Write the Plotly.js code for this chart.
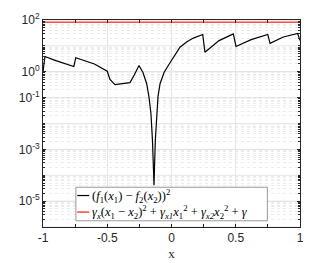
<!DOCTYPE html>
<html><head><meta charset="utf-8">
<script src="https://cdn.plot.ly/plotly-3.0.1.min.js"></script>
<style>html,body{margin:0;padding:0;background:#fff;}#chart{width:332px;height:263px;}</style>
</head><body><div id="chart"></div>
<script>
// (f1(x1) - f2(x2))^2 curve
const xCurve = [-1, -0.985, -0.9, -0.8, -0.76, -0.745, -0.6, -0.5, -0.479, -0.44, -0.38, -0.323, -0.29, -0.253, -0.222, -0.193, -0.175, -0.16, -0.148, -0.136, -0.126, -0.115, -0.105, -0.089, -0.058, -0.025, 0.027, 0.066, 0.12, 0.17, 0.243, 0.26, 0.37, 0.481, 0.502, 0.62, 0.749, 0.767, 0.87, 0.982, 1];
const yCurve = [1.0, 3.9, 2.7, 1.85, 1.6, 3.5, 2.0, 1.05, 0.5, 0.32, 0.34, 0.38, 0.75, 1.75, 0.94, 0.344, 0.102, 0.0245, 0.0022, 0.000041, 0.0022, 0.0245, 0.112, 0.344, 0.94, 1.75, 4.3, 8.9, 14.5, 20, 27.6, 5.7, 16, 29, 9.5, 17.5, 27.6, 12.6, 22, 30, 16];
// gamma bound (constant)
const xBound = [-1, 1];
const yBound = [82, 82];
// axis ticks
const xTickVals = [-1, -0.5, 0, 0.5, 1];
const xTickText = ['-1', '-0.5', '0', '0.5', '1'];
const yTickVals = [1e-5, 1e-3, 1e-1, 1, 100];
const yTickText = ['10<sup>-5</sup>', '10<sup>-3</sup>', '10<sup>-1</sup>', '10<sup>0</sup>', '10<sup>2</sup>'];
const yGridDecades = [1e-6, 1e-5, 1e-4, 1e-3, 1e-2, 1e-1, 1, 10, 100];

const name1 = '(<i>f</i><sub>1</sub>(<i>x</i><sub>1</sub>) − <i>f</i><sub>2</sub>(<i>x</i><sub>2</sub>))<sup>2</sup>';
const name2 = '<i>γ<sub>x</sub></i>(<i>x</i><sub>1</sub> − <i>x</i><sub>2</sub>)<sup>2</sup> + <i>γ<sub>x1</sub>x</i><sub>1</sub><sup>2</sup> + <i>γ<sub>x2</sub>x</i><sub>2</sub><sup>2</sup> + <i>γ</i>';

const colors = ['#000000', '#ff4d4d'];
const traces = [
  {x: xCurve, y: yCurve, type: 'scatter', mode: 'lines', name: name1,
   line: {color: colors[0], width: 1.2}, showlegend: false},
  {x: xBound, y: yBound, type: 'scatter', mode: 'lines', name: name2,
   line: {color: colors[1], width: 1.6}, showlegend: false}
];

const axisCommon = {
  showline: true, linecolor: '#262626', linewidth: 1, mirror: 'ticks',
  ticks: 'inside', ticklen: 3, tickcolor: '#262626',
  gridcolor: '#e4e4e4', zeroline: false,
  tickfont: {family: 'Liberation Sans, Arial, sans-serif', size: 12, color: '#262626'}
};

// legend box built from shapes + annotations (paper coords)
const lg = {x0: 0.128, x1: 0.873, y0: 0.030, y1: 0.192, rows: [0.152, 0.072], sx0: 0.133, sx1: 0.180, tx: 0.185};
const shapes = [
  {type: 'rect', xref: 'paper', yref: 'paper', x0: lg.x0, x1: lg.x1, y0: lg.y0, y1: lg.y1,
   line: {color: '#808080', width: 0.8}, fillcolor: '#ffffff', layer: 'above'}
];
const annotations = [];
[name1, name2].forEach((nm, i) => {
  shapes.push({type: 'line', xref: 'paper', yref: 'paper', x0: lg.sx0, x1: lg.sx1, y0: lg.rows[i], y1: lg.rows[i],
    line: {color: colors[i], width: i === 0 ? 1.2 : 1.6}, layer: 'above'});
  annotations.push({xref: 'paper', yref: 'paper', x: lg.tx, y: lg.rows[i], xanchor: 'left', yanchor: 'middle',
    text: nm, showarrow: false, borderpad: 0,
    font: {family: 'Liberation Serif, DejaVu Serif, serif', size: 12.5, color: '#000'}});
});

const layout = {
  width: 332, height: 263,
  margin: {l: 43, r: 32, t: 20, b: 36},
  paper_bgcolor: '#ffffff', plot_bgcolor: '#ffffff',
  showlegend: false,
  shapes: shapes,
  annotations: annotations,
  xaxis: Object.assign({}, axisCommon, {
    range: [-1, 1], tickmode: 'array', tickvals: xTickVals, ticktext: xTickText,
    minor: {dtick: 0.25, ticks: 'inside', ticklen: 3, tickcolor: '#262626', showgrid: false},
    title: {text: 'x', standoff: 4, font: {family: 'Liberation Serif, DejaVu Serif, serif', size: 13, color: '#262626'}}
  }),
  yaxis: Object.assign({}, axisCommon, {
    type: 'log', range: [-6, 2], tickmode: 'array', tickvals: yTickVals, ticktext: yTickText,
    minor: {dtick: 'D1', showgrid: true, gridcolor: '#ececec', griddash: 'dot', ticks: 'inside', ticklen: 2, tickcolor: '#262626'}
  })
};
// solid grid lines at every decade (unlabelled ones included)
yGridDecades.forEach(v => {
  layout.shapes.unshift({type: 'line', xref: 'paper', yref: 'y', x0: 0, x1: 1, y0: v, y1: v,
    line: {color: '#e4e4e4', width: 1}, layer: 'below'});
});

Plotly.newPlot('chart', traces, layout, {displayModeBar: false, staticPlot: true});
</script>
</body></html>
